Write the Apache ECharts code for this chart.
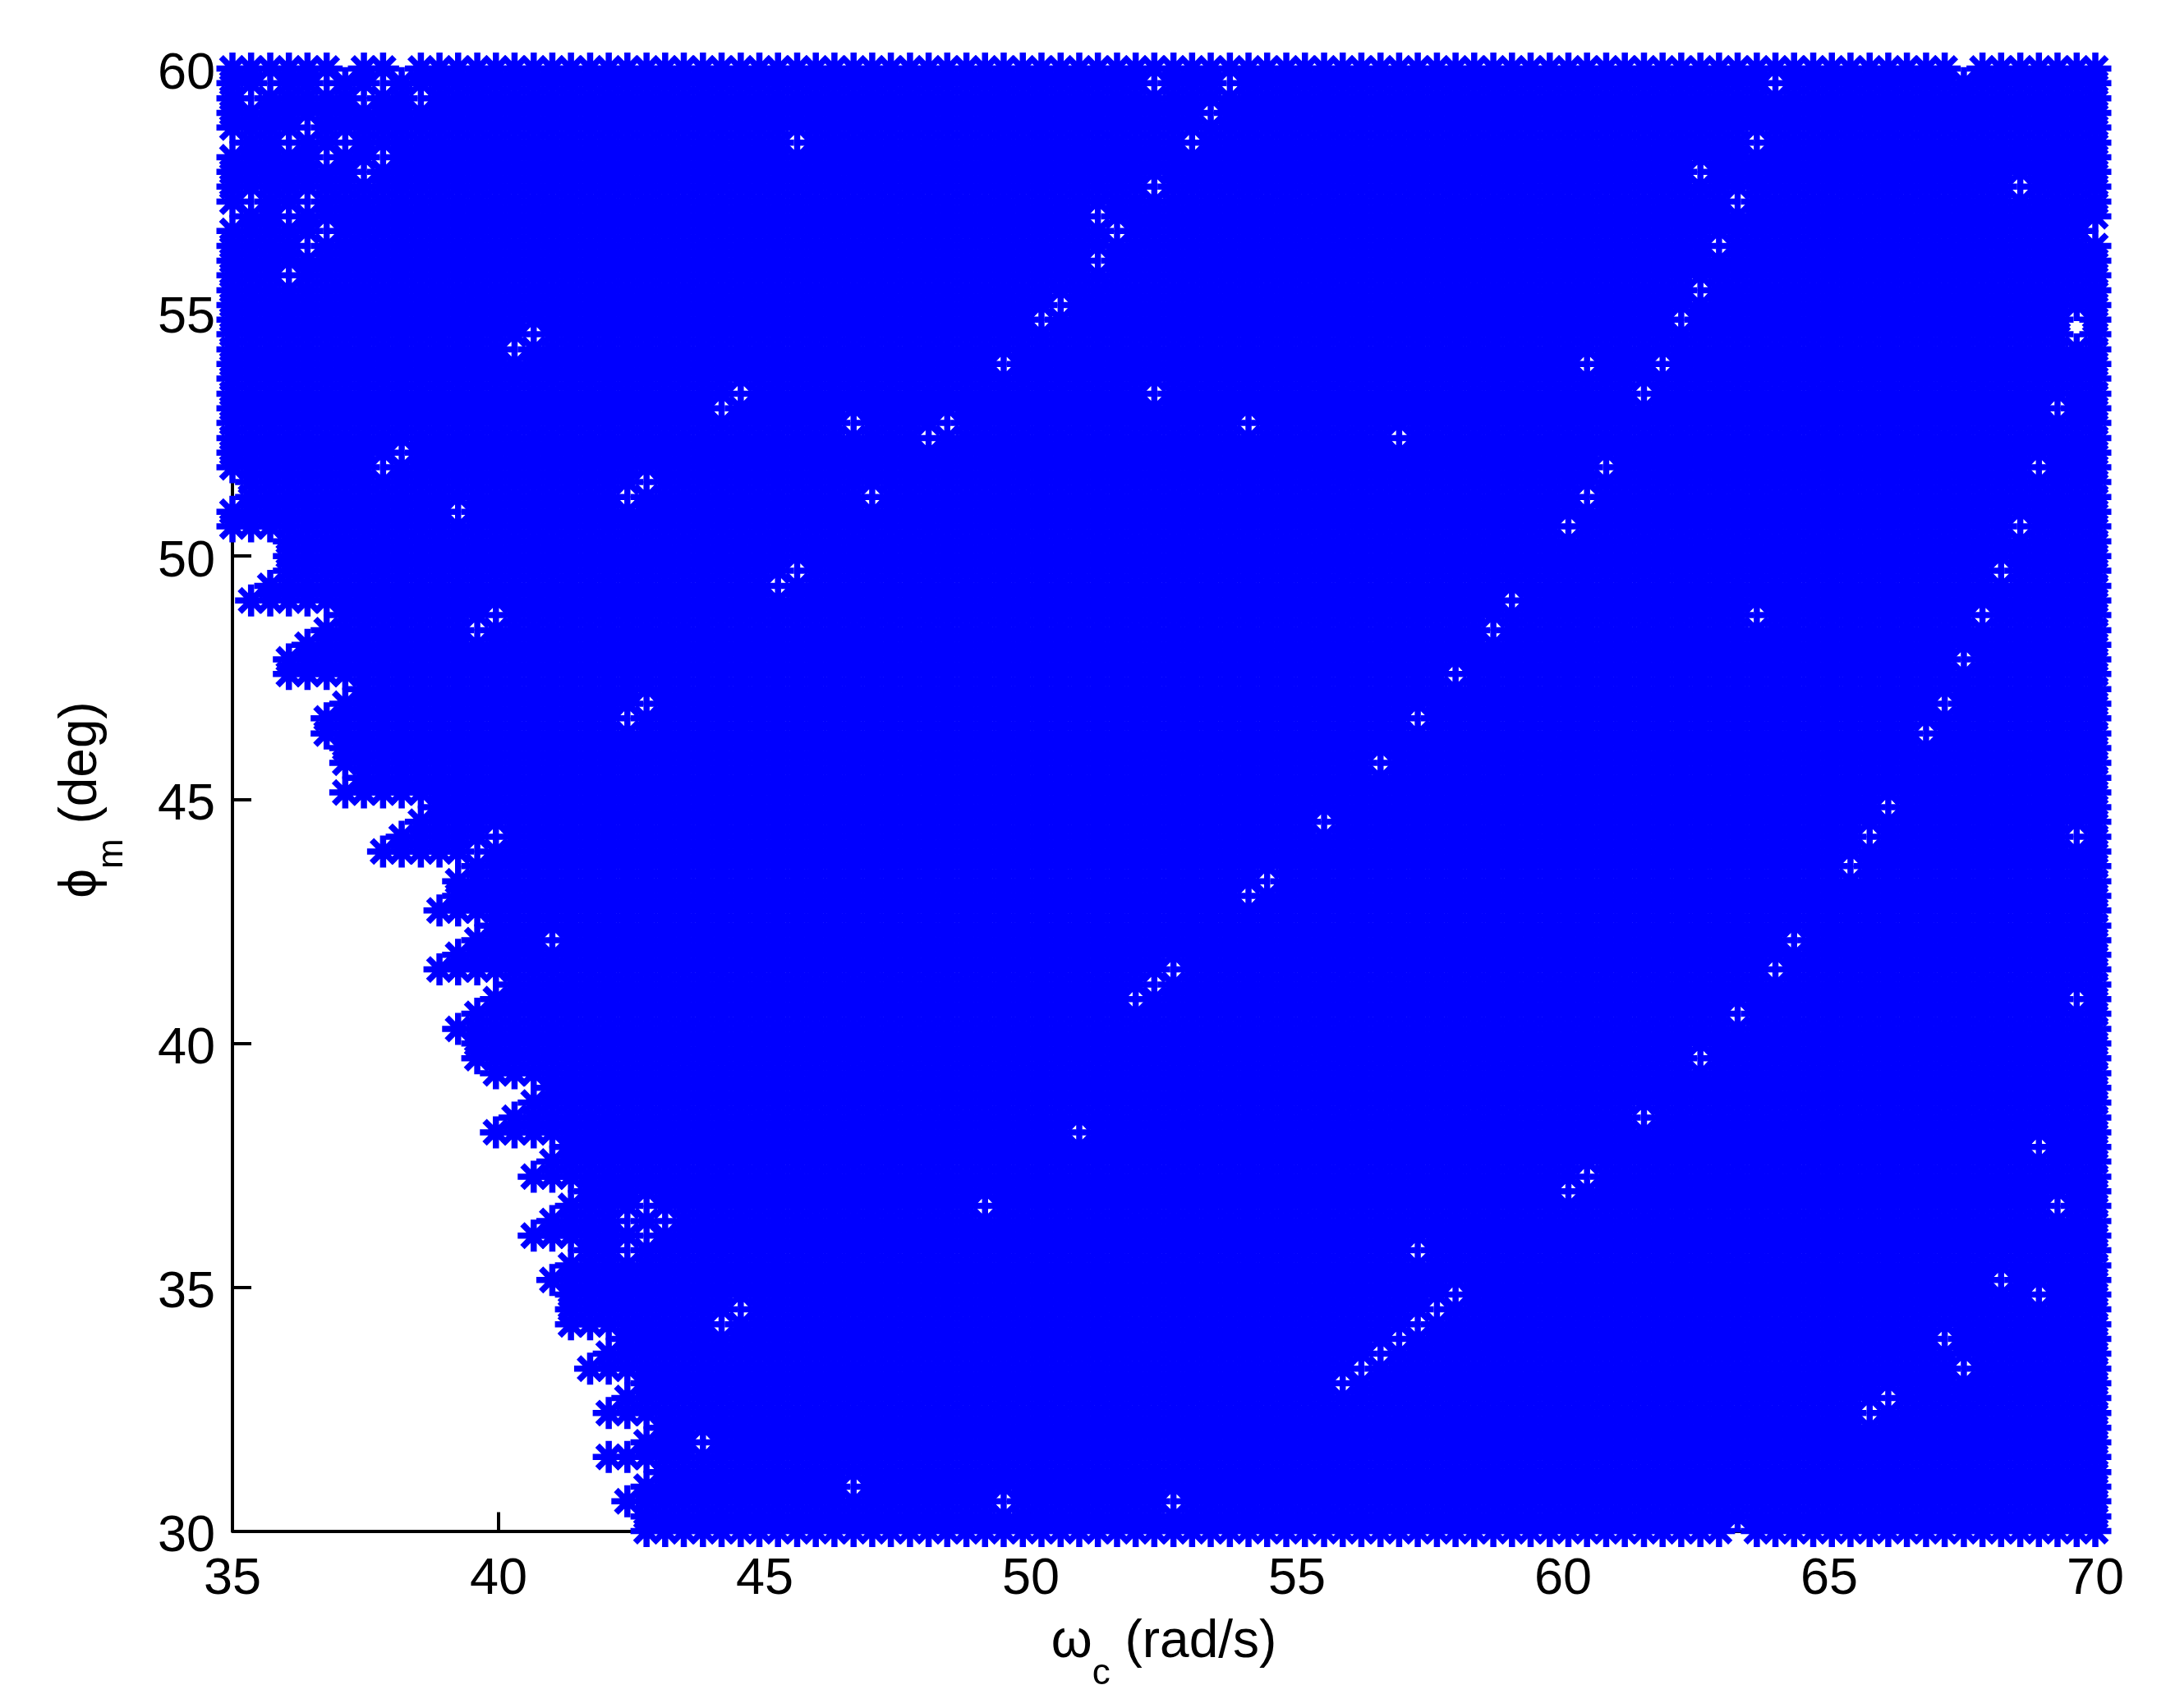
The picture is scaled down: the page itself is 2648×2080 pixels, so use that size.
<!DOCTYPE html>
<html>
<head>
<meta charset="utf-8">
<style>html,body{margin:0;padding:0;background:#fff}#chart{width:2648px;height:2080px}</style>
<script src="https://cdn.jsdelivr.net/npm/echarts@6/dist/echarts.min.js"></script>
</head>
<body>
<div id="chart"></div>
<script>
const omegaValues = [35.00,35.35,35.71,36.06,36.41,36.77,37.12,37.47,37.83,38.18,
38.54,38.89,39.24,39.60,39.95,40.30,40.66,41.01,41.36,41.72,
42.07,42.42,42.78,43.13,43.48,43.84,44.19,44.55,44.90,45.25,
45.61,45.96,46.31,46.67,47.02,47.37,47.73,48.08,48.43,48.79,
49.14,49.49,49.85,50.20,50.56,50.91,51.26,51.62,51.97,52.32,
52.68,53.03,53.38,53.74,54.09,54.44,54.80,55.15,55.51,55.86,
56.21,56.57,56.92,57.27,57.63,57.98,58.33,58.69,59.04,59.39,
59.75,60.10,60.45,60.81,61.16,61.52,61.87,62.22,62.58,62.93,
63.28,63.64,63.99,64.34,64.70,65.05,65.40,65.76,66.11,66.46,
66.82,67.17,67.53,67.88,68.23,68.59,68.94,69.29,69.65,70.00];

const phiValues = [60.00,59.70,59.39,59.09,58.79,58.48,58.18,57.88,57.58,57.27,
56.97,56.67,56.36,56.06,55.76,55.45,55.15,54.85,54.55,54.24,
53.94,53.64,53.33,53.03,52.73,52.42,52.12,51.82,51.52,51.21,
50.91,50.61,50.30,50.00,49.70,49.39,49.09,48.79,48.48,48.18,
47.88,47.58,47.27,46.97,46.67,46.36,46.06,45.76,45.45,45.15,
44.85,44.55,44.24,43.94,43.64,43.33,43.03,42.73,42.42,42.12,
41.82,41.52,41.21,40.91,40.61,40.30,40.00,39.70,39.39,39.09,
38.79,38.48,38.18,37.88,37.58,37.27,36.97,36.67,36.36,36.06,
35.76,35.45,35.15,34.85,34.55,34.24,33.94,33.64,33.33,33.03,
32.73,32.42,32.12,31.82,31.52,31.21,30.91,30.61,30.30,30.00];

// For each phi row, the index into omegaValues of the first marker (left boundary)
const firstOmegaIndex = [0,0,0,0,0,0,0,0,0,0,
0,0,0,0,0,0,0,0,0,0,
0,0,0,0,0,0,0,0,1,1,
0,0,3,3,3,2,1,6,5,4,
3,3,7,6,5,5,6,6,7,6,
11,10,9,8,13,12,12,11,14,13,
12,11,15,14,13,12,13,13,14,17,
16,15,14,18,17,16,19,18,17,16,
19,18,17,18,18,18,21,20,19,22,
21,20,23,22,20,23,22,21,22,22];

// Grid points with no marker: [omega index, phi index]
const missingPoints = [
[6,0],[9,0],[92,0],[80,99],
[2,1],[5,1],[8,1],[49,1],[53,1],[82,1],
[1,2],[7,2],[10,2],[52,3],[4,4],
[0,5],[3,5],[6,5],[30,5],[51,5],[81,5],
[5,6],[8,6],[7,7],[78,7],[49,8],[95,8],
[1,9],[4,9],[80,9],[0,10],[3,10],[46,10],
[5,11],[47,11],[99,11],[4,12],[79,12],[46,13],[3,14],[78,15],
[44,16],[43,17],[77,17],[98,17],[16,18],[98,18],[15,19],
[41,20],[72,20],[76,20],[27,22],[49,22],[75,22],[26,23],[97,23],
[33,24],[38,24],[54,24],[37,25],[62,25],[9,26],[8,27],[73,27],[96,27],
[22,28],[21,29],[34,29],[72,29],[12,30],[71,31],[95,31],
[30,34],[94,34],[29,35],[68,36],[14,37],[81,37],[93,37],[13,38],[67,38],
[92,40],[65,41],[22,43],[63,44],[91,43],[21,44],[90,45],[61,47],
[88,50],[58,51],[14,52],[87,52],[98,52],[13,53],[86,54],[55,55],[54,56],
[17,59],[83,59],[50,61],[82,61],[49,62],[48,63],[98,63],[80,64],[78,67],
[75,71],[45,72],[96,73],[72,75],[71,76],[22,77],[40,77],[97,77],
[21,78],[23,78],[22,79],[21,80],[63,80],[94,82],[65,83],[96,83],
[27,84],[64,84],[26,85],[63,85],[62,86],[91,86],[61,87],[60,88],[92,88],[59,89],
[88,90],[87,91],[25,93],[33,96],[41,97],[50,97]
];

const xAxisMin = 35, xAxisMax = 70, xAxisStep = 5;
const yAxisMin = 30, yAxisMax = 60, yAxisStep = 5;

const missingKeys = new Set(missingPoints.map(p => p[0] + ':' + p[1]));
const points = [];
phiValues.forEach((phi, r) => {
  for (let c = firstOmegaIndex[r]; c < omegaValues.length; c++) {
    if (!missingKeys.has(c + ':' + r)) points.push([omegaValues[c], phi]);
  }
});

const AX = 'M-19.5 -3.75L19.5 -3.75L19.5 3.75L-19.5 3.75Z' +
           'M-3.75 -19.5L3.75 -19.5L3.75 19.5L-3.75 19.5Z' +
           'M-16.44 -11.14L-11.14 -16.44L16.44 11.14L11.14 16.44Z' +
           'M-11.14 16.44L-16.44 11.14L11.14 -16.44L16.44 -11.14Z';

const FONT = '"Liberation Sans", Arial, Helvetica, sans-serif';
const titleRich = {
  main: {fontFamily: FONT, fontSize: 64, color: '#000', lineHeight: 64, padding: [0, 0, 28, 0], verticalAlign: 'bottom'},
  sub: {fontFamily: FONT, fontSize: 44, color: '#000', lineHeight: 44, verticalAlign: 'bottom'}
};

const chart = echarts.init(document.getElementById('chart'), null, {renderer: 'canvas', width: 2648, height: 2080});
chart.setOption({
  animation: false,
  backgroundColor: '#ffffff',
  grid: {left: 283, top: 83.5, width: 2268, height: 1781},
  xAxis: {
    type: 'value', min: xAxisMin, max: xAxisMax, interval: xAxisStep,
    position: 'bottom',
    splitLine: {show: false},
    axisLine: {show: true, lineStyle: {color: '#000', width: 4}},
    axisTick: {show: true, inside: true, length: 23, lineStyle: {color: '#000', width: 4}},
    axisLabel: {color: '#000', fontFamily: FONT, fontSize: 63, margin: 28, hideOverlap: false, showMinLabel: true, showMaxLabel: true},
    name: '{main|ω}{sub|c}{main| (rad/s)}',
    nameLocation: 'middle', nameGap: 132, nameMoveOverlap: false,
    nameTextStyle: {rich: titleRich}
  },
  yAxis: {
    type: 'value', min: yAxisMin, max: yAxisMax, interval: yAxisStep,
    position: 'left',
    splitLine: {show: false},
    axisLine: {show: true, lineStyle: {color: '#000', width: 4}},
    axisTick: {show: true, inside: true, length: 23, lineStyle: {color: '#000', width: 4}},
    axisLabel: {
      margin: 21, showMinLabel: true, showMaxLabel: true,
      formatter: '{v|{value}}',
      rich: {v: {color: '#000', fontFamily: FONT, fontSize: 63, lineHeight: 63, padding: [14, 0, 0, 0]}}
    },
    name: '{main|ϕ}{sub|m}{main| (deg)}',
    nameLocation: 'middle', nameGap: 124, nameRotate: 90, nameMoveOverlap: false,
    nameTextStyle: {rich: titleRich}
  },
  series: [{
    type: 'scatter',
    data: points,
    symbol: 'path://' + AX,
    symbolSize: [39, 39],
    itemStyle: {color: '#0000ff', opacity: 1},
    clip: false,
    silent: true,
    progressive: 0,
    large: false,
    z: 5
  }]
});
</script>
</body>
</html>
